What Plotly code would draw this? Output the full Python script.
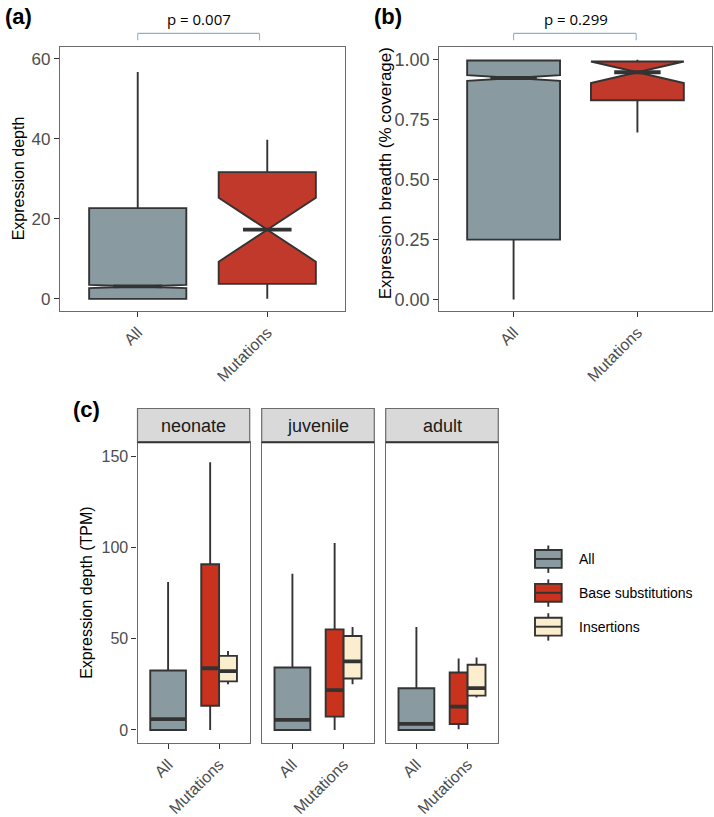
import plotly.graph_objects as go

W, H = 714, 817

# ---------------- data ----------------
groups = ["All", "Mutations"]

# panel (a): expression depth
a_q1 = [0.0, 3.75]
a_median = [3.1, 17.3]
a_q3 = [22.7, 31.7]
a_lower = [0.0, 0.0]
a_upper = [56.7, 39.8]
a_notch = [0.4, 8.0]
a_pvalue = "p = 0.007"

# panel (b): expression breadth
b_q1 = [0.25, 0.831]
b_median = [0.924, 0.948]
b_q3 = [0.997, 0.993]
b_lower = [0.0, 0.697]
b_upper = [1.0, 1.0]
b_notch = [0.012, 0.045]
b_pvalue = "p = 0.299"

# panel (c): expression depth (TPM) by life stage
stages = ["neonate", "juvenile", "adult"]
c_types = ["All", "Base substitutions", "Insertions"]
c_q1 = {"neonate": [0.0, 13.3, 26.6], "juvenile": [0.0, 7.3, 28.2], "adult": [0.0, 3.3, 18.8]}
c_median = {"neonate": [6.0, 33.8, 32.2], "juvenile": [5.5, 21.8, 37.6], "adult": [3.3, 12.8, 22.9]}
c_q3 = {"neonate": [32.6, 90.8, 40.6], "juvenile": [34.2, 55.1, 51.5], "adult": [22.9, 31.5, 35.7]}
c_lower = {"neonate": [0.0, 0.0, 25.1], "juvenile": [0.0, 0.0, 25.1], "adult": [0.0, 0.4, 17.8]}
c_upper = {"neonate": [81.0, 146.6, 43.3], "juvenile": [85.5, 102.4, 56.4], "adult": [56.4, 39.1, 39.7]}

# ---------------- style ----------------
GRAY = "#899ba1"
RED_AB = "#c0392b"
RED_C = "#c9321c"
BEIGE = "#fbeecf"
OUT = "#333333"
BORDER = "#6b6b6b"
TICKC = "#4d4d4d"
FONT = "Liberation Sans, Arial, sans-serif"
LW = 1.9
c_colors = [GRAY, RED_C, BEIGE]


def px(x):
    return x / W


def py(y):
    return 1 - y / H


fig = go.Figure()


def add_box(xpos, q1, med, q3, lo, hi, color, xa, ya, width, notch=None):
    kw = dict(notched=True, notchwidth=0.5, notchspan=[notch]) if notch is not None else {}
    fig.add_trace(go.Box(
        x=[xpos], q1=[q1], median=[med], q3=[q3], lowerfence=[lo], upperfence=[hi],
        width=width, fillcolor=color, line=dict(color=OUT, width=LW),
        whiskerwidth=0, boxpoints=False, showlegend=False, hoverinfo="skip",
        xaxis=xa, yaxis=ya, **kw))


def add_medians(xs, meds, halfws, xa, ya):
    xx, yy = [], []
    for x, m, hw in zip(xs, meds, halfws):
        xx += [x - hw, x + hw, None]
        yy += [m, m, None]
    fig.add_trace(go.Scatter(x=xx, y=yy, mode="lines", line=dict(color=OUT, width=3.8),
                             showlegend=False, hoverinfo="skip", xaxis=xa, yaxis=ya))


# panel (a)
wa = 0.75
for i in range(2):
    add_box(i + 1, a_q1[i], a_median[i], a_q3[i], a_lower[i], a_upper[i],
            [GRAY, RED_AB][i], "x", "y", wa, a_notch[i])
add_medians([1, 2], a_median, [wa * 0.25] * 2, "x", "y")

# panel (b)
for i in range(2):
    add_box(i + 1, b_q1[i], b_median[i], b_q3[i], b_lower[i], b_upper[i],
            [GRAY, RED_AB][i], "x2", "y2", wa, b_notch[i])
add_medians([1, 2], b_median, [wa * 0.25] * 2, "x2", "y2")

# panel (c)
wc = 0.7
dodge = wc / 4
for s_i, st in enumerate(stages):
    xa = "x%d" % (s_i + 3)
    ya = "y%d" % (s_i + 3)
    positions = [1, 2 - dodge, 2 + dodge]
    widths = [wc, wc / 2, wc / 2]
    for k in range(3):
        add_box(positions[k], c_q1[st][k], c_median[st][k], c_q3[st][k],
                c_lower[st][k], c_upper[st][k], c_colors[k], xa, ya, widths[k])
    add_medians(positions, c_median[st], [w / 2 for w in widths], xa, ya)

# ---------------- axes ----------------
common = dict(showline=True, mirror=True, linecolor=BORDER, linewidth=1.2,
              showgrid=False, zeroline=False, ticks="outside", ticklen=5,
              tickcolor=OUT, tickwidth=1.4)

top_dom = [py(312), py(47.5)]
layout = dict(
    width=W, height=H, margin=dict(l=0, r=0, t=0, b=0),
    paper_bgcolor="white", plot_bgcolor="white",
    font=dict(family=FONT, color="black"),
    xaxis=dict(domain=[px(60), px(345)], range=[0.4, 2.6], tickvals=[1, 2], ticktext=groups,
               tickangle=-45, tickfont=dict(size=16, color=TICKC), anchor="y", **common),
    yaxis=dict(domain=top_dom, range=[-3, 62.9], tickvals=[0, 20, 40, 60],
               tickfont=dict(size=17, color=TICKC), anchor="x", **common),
    xaxis2=dict(domain=[px(439.3), px(711.7)], range=[0.4, 2.6], tickvals=[1, 2], ticktext=groups,
                tickangle=-45, tickfont=dict(size=16, color=TICKC), anchor="y2", **common),
    yaxis2=dict(domain=top_dom, range=[-0.047, 1.052], tickvals=[0, 0.25, 0.5, 0.75, 1.0],
                ticktext=["0.00", "0.25", "0.50", "0.75", "1.00"],
                tickfont=dict(size=18, color=TICKC), anchor="x2", **common),
)
c_x = [(137.5, 249.7), (261.7, 374.3), (385.7, 498.3)]
c_dom_y = [py(745.7), py(444)]
for s_i in range(3):
    n = s_i + 3
    layout["xaxis%d" % n] = dict(domain=[px(c_x[s_i][0]), px(c_x[s_i][1])], range=[0.4, 2.6],
                                 tickvals=[1, 2], ticktext=groups, tickangle=-45,
                                 tickfont=dict(size=16, color=TICKC), anchor="y%d" % n, **common)
    ykw = dict(common)
    if s_i > 0:
        ykw["ticks"] = ""
    layout["yaxis%d" % n] = dict(domain=c_dom_y, range=[-7.1, 157.5], tickvals=[0, 50, 100, 150],
                                 showticklabels=(s_i == 0),
                                 tickfont=dict(size=16, color=TICKC), anchor="x%d" % n, **ykw)
fig.update_layout(**layout)

shapes = []
annotations = []

# strips
for s_i, st in enumerate(stages):
    x0, x1 = c_x[s_i]
    shapes.append(dict(type="rect", xref="paper", yref="paper", x0=px(x0), x1=px(x1),
                       y0=py(444), y1=py(410), fillcolor="#d9d9d9",
                       line=dict(color=BORDER, width=1.2)))
    shapes.append(dict(type="line", xref="paper", yref="paper", x0=px(x0), x1=px(x1),
                       y0=py(444), y1=py(444), line=dict(color=OUT, width=2)))
    annotations.append(dict(text=st, xref="paper", yref="paper", x=px((x0 + x1) / 2), y=py(427.5),
                            showarrow=False, font=dict(size=18, color="#1a1a1a"),
                            xanchor="center", yanchor="middle"))

# significance brackets
BR = "#8fb0d6"
for xa, (xl, xr), txt, xt in [("x", (1.0, 1.94), a_pvalue, 1.47), ("x2", (1.0, 1.99), b_pvalue, 1.5)]:
    shapes.append(dict(type="line", xref=xa, yref="paper", x0=xl, x1=xl, y0=py(40.5), y1=py(33.5),
                       line=dict(color=BR, width=1.1)))
    shapes.append(dict(type="line", xref=xa, yref="paper", x0=xl, x1=xr, y0=py(33.5), y1=py(33.5),
                       line=dict(color=BR, width=1.1)))
    shapes.append(dict(type="line", xref=xa, yref="paper", x0=xr, x1=xr, y0=py(40.5), y1=py(33.5),
                       line=dict(color=BR, width=1.1)))
    annotations.append(dict(text=txt, xref=xa, yref="paper", x=xt, y=py(19), showarrow=False,
                            font=dict(size=15, family="Open Sans, sans-serif", color="black"),
                            xanchor="center", yanchor="middle"))

# panel labels
for lab, x, y in [("(a)", 18.5, 16.7), ("(b)", 388, 17), ("(c)", 86, 411.5)]:
    annotations.append(dict(text="<b>%s</b>" % lab, xref="paper", yref="paper", x=px(x), y=py(y),
                            showarrow=False, font=dict(size=22, color="black"),
                            xanchor="center", yanchor="middle"))

# y axis titles
for txt, x, y, size in [("Expression depth", 18, 179, 16),
                        ("Expression breadth (% coverage)", 385, 174, 17),
                        ("Expression depth (TPM)", 87, 595, 16)]:
    annotations.append(dict(text=txt, xref="paper", yref="paper", x=px(x), y=py(y), textangle=-90,
                            showarrow=False, font=dict(size=size, color="black"),
                            xanchor="center", yanchor="middle"))

# legend (drawn as ggplot-style keys)
for k, name in enumerate(c_types):
    yc = 561 + 34 * k
    shapes.append(dict(type="line", xref="paper", yref="paper", x0=px(548.3), x1=px(548.3),
                       y0=py(yc - 13.5), y1=py(yc + 14), line=dict(color=OUT, width=LW)))
    shapes.append(dict(type="rect", xref="paper", yref="paper", x0=px(535), x1=px(561.7),
                       y0=py(yc + 9), y1=py(yc - 9), fillcolor=c_colors[k],
                       line=dict(color=OUT, width=LW)))
    shapes.append(dict(type="line", xref="paper", yref="paper", x0=px(535), x1=px(561.7),
                       y0=py(yc), y1=py(yc), line=dict(color=OUT, width=LW)))
    annotations.append(dict(text=name, xref="paper", yref="paper", x=px(577), y=py(yc),
                            showarrow=False, font=dict(size=14, color="black"),
                            xanchor="left", yanchor="middle"))

fig.update_layout(shapes=shapes, annotations=annotations)
fig.write_html("out.html")
